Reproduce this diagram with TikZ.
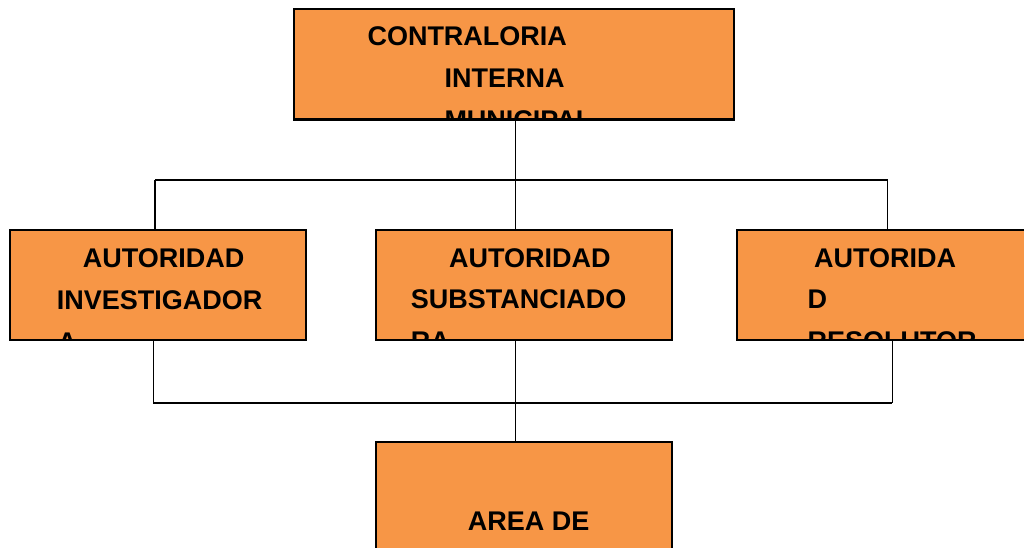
\documentclass[tikz,border=0pt]{standalone}
\usepackage{fontspec}
\setmainfont{Liberation Sans}
\usetikzlibrary{positioning}
\definecolor{orgfill}{HTML}{F79646}

\begin{document}
\begin{tikzpicture}[
  x=1pt,y=-1pt,
  box/.style={draw=black,fill=orgfill,line width=1.4pt,inner sep=0pt,anchor=north west},
  txt/.style={anchor=base west,inner sep=0pt,font=\fontsize{27}{30}\selectfont\bfseries},
  link/.style={draw=black,line width=1.4pt}
]
\useasboundingbox (0,0) rectangle (1024,548);

% boxes
\node[box,minimum width=439pt,minimum height=110pt] (contraloria) at (293.5,8.5) {};
\node[box,minimum width=295pt,minimum height=109pt] (investigadora) at (9.5,230) {};
\node[box,minimum width=295pt,minimum height=109pt] (substanciadora) at (375.5,230) {};
\node[box,minimum width=300pt,minimum height=109pt] (resolutora) at (736.5,230) {};
\node[box,minimum width=295pt,minimum height=130pt] (area) at (375.5,441.5) {};

% connectors
\coordinate (busTop) at (515.7,180);
\coordinate (busTopL) at (155,180);
\coordinate (busTopR) at (887.7,180);
\coordinate (busLowL) at (153.3,403);
\coordinate (busLowM) at (515.7,403);
\coordinate (busLowR) at (892.3,403);

\draw[link] (contraloria.south -| busTop) -- (busTop);
\draw[link] (busTopL) -- (busTopR);
\draw[link] (busTopL) -- (busTopL |- investigadora.north);
\draw[link] (busTop) -- (busTop |- substanciadora.north);
\draw[link] (busTopR) -- (busTopR |- resolutora.north);

\draw[link] (busLowL |- investigadora.south) -- (busLowL);
\draw[link] (busLowR |- resolutora.south) -- (busLowR);
\draw[link] (busLowL) -- (busLowR);
\draw[link] (busLowM |- substanciadora.south) -- (busLowM |- area.north);

% texts, cut off at the box edges
\begin{scope}
  \clip (contraloria.north west) rectangle (contraloria.south east);
  \node[txt] (contraloriaA) at (367.3,46) {CONTRALORIA};
  \node[txt] (contraloriaB) at (444.3,88) {INTERNA};
  \node[txt] (contraloriaC) at (444.3,130) {MUNICIPAL};
\end{scope}
\begin{scope}
  \clip (investigadora.north west) rectangle (investigadora.south east);
  \node[txt] (investigadoraA) at (82.7,267.7) {AUTORIDAD};
  \node[txt] (investigadoraB) at (56.7,309) {INVESTIGADOR};
  \node[txt] (investigadoraC) at (57.5,351) {A};
\end{scope}
\begin{scope}
  \clip (substanciadora.north west) rectangle (substanciadora.south east);
  \node[txt] (substanciadoraA) at (449,267.7) {AUTORIDAD};
  \node[txt] (substanciadoraB) at (410.7,308.5) {SUBSTANCIADO};
  \node[txt] (substanciadoraC) at (410.7,350.5) {RA};
\end{scope}
\begin{scope}
  \clip (resolutora.north west) rectangle (resolutora.south east);
  \node[txt] (resolutoraA) at (814,267.7) {AUTORIDA};
  \node[txt] (resolutoraB) at (807.3,308.5) {D};
  \node[txt] (resolutoraC) at (807.3,350.5) {RESOLUTOR};
\end{scope}
\node[txt] (areaA) at (467.7,530.7) {AREA DE};

% borders again on top of the cut text
\foreach \b in {contraloria,investigadora,substanciadora,resolutora,area}
  \draw[line width=1.4pt] (\b.north west) rectangle (\b.south east);
\end{tikzpicture}
\end{document}
